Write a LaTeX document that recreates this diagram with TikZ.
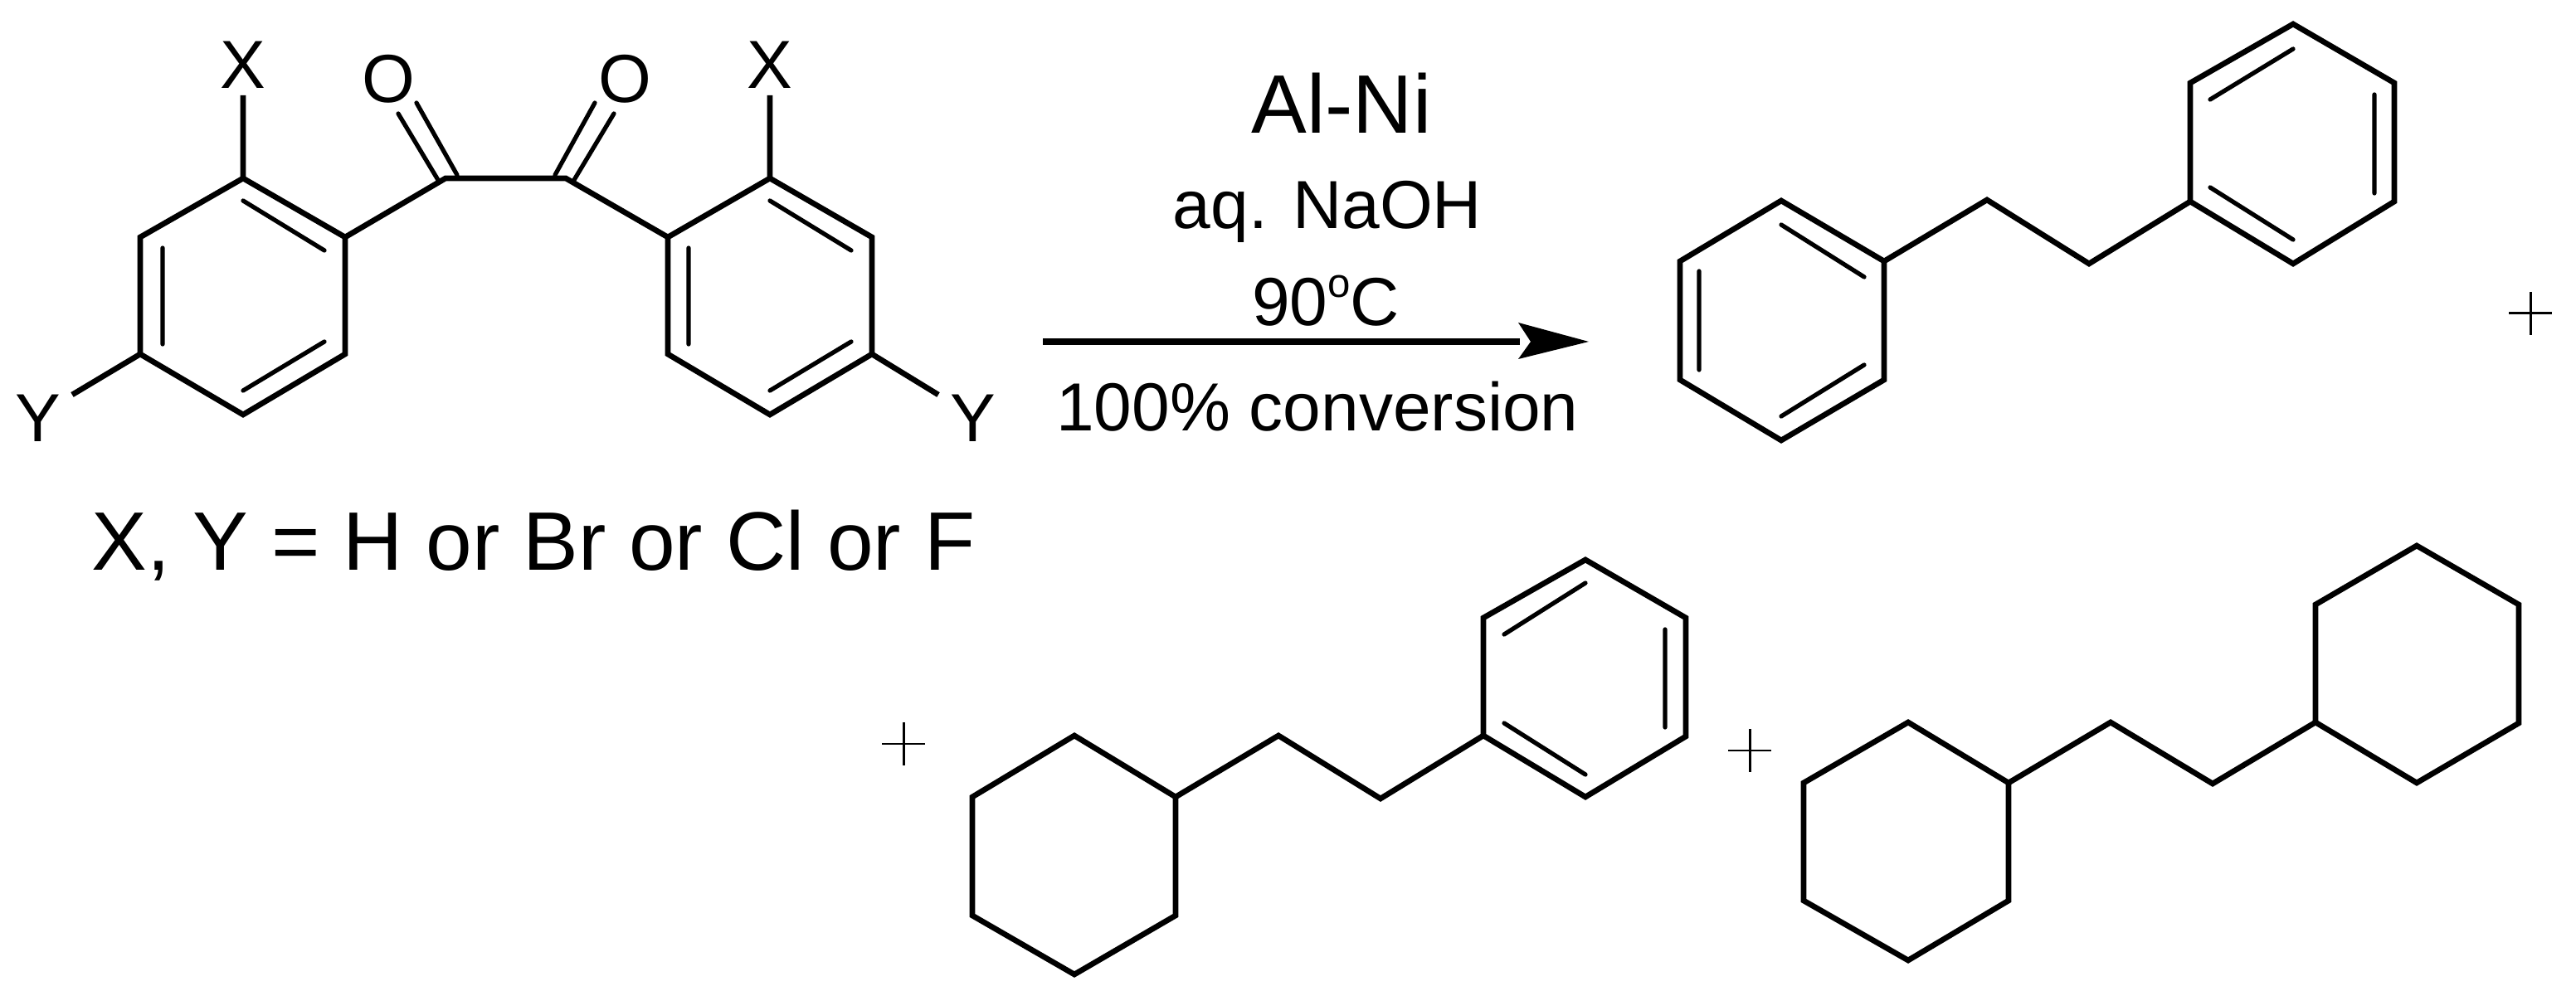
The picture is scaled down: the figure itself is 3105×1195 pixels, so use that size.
\documentclass[tikz,border=0pt]{standalone}
\usepackage{fontspec}
\setmainfont{Liberation Sans}
\newcommand{\bigtxt}{\fontsize{28.45}{34}\selectfont}
\newcommand{\medtxt}{\fontsize{23.33}{28}\selectfont}
\tikzset{
  bond/.style={line width=1.9pt,line join=miter,miter limit=10,black},
  inner/.style={line width=1.5pt,line cap=round,black},
  lab/.style={anchor=base,inner sep=0pt,outer sep=0pt,text=black},
  plusbar/.style={line width=0.85pt,black},
}
% hexagon with named vertices: prefix, six points clockwise from top
\newcommand{\hexa}[7]{%
  \coordinate (#1a) at #2; \coordinate (#1b) at #3; \coordinate (#1c) at #4;
  \coordinate (#1d) at #5; \coordinate (#1e) at #6; \coordinate (#1f) at #7;
  \draw[bond] (#1a) -- (#1b) -- (#1c) -- (#1d) -- (#1e) -- (#1f) -- cycle;}
\newcommand{\plusmark}[3]{%
  \coordinate (#1c) at (#2,#3);
  \coordinate (#1l) at (#2-26,#3); \coordinate (#1r) at (#2+26,#3);
  \coordinate (#1t) at (#2,#3-26); \coordinate (#1b) at (#2,#3+26);
  \draw[plusbar] (#1l) -- (#1r) (#1t) -- (#1b);}
\begin{document}
\begin{tikzpicture}[x=0.01cm,y=-0.01cm]
\useasboundingbox (0,0) rectangle (3105,1195);
% reactant
\hexa{L}{(293,215)}{(416,286)}{(416,427)}{(293,500)}{(169,427)}{(169,286)}
\hexa{R}{(928,215)}{(1051,286)}{(1051,427)}{(928,500)}{(805,427)}{(805,286)}
\draw[inner] (293,242) -- (391,302) (196,299) -- (196,415) (293,471) -- (391,412);
\draw[inner] (928,242) -- (1026,302) (830,299) -- (830,415) (928,471) -- (1026,412);
\coordinate (C1) at (537,215); \coordinate (C2) at (682,215);
\draw[bond] (Lb) -- (C1) -- (C2) -- (Rf);
\node[lab] (O1) at (468,124) {\medtxt O};
\node[lab] (O2) at (753,124) {\medtxt O};
\node[lab] (X1) at (293,107) {\medtxt X};
\node[lab] (X2) at (928,107) {\medtxt X};
\node[lab] (Y1) at (46,533) {\medtxt Y};
\node[lab] (Y2) at (1173,533) {\medtxt Y};
\coordinate (X1e) at (293,115); \coordinate (X2e) at (928,115);
\coordinate (Y1e) at (87,476); \coordinate (Y2e) at (1131,476);
\draw[bond] (La) -- (X1e) (Ra) -- (X2e) (Le) -- (Y1e) (Rc) -- (Y2e);
\coordinate (O1a) at (528,217); \coordinate (O1b) at (480,137);
\coordinate (O1c) at (551,211); \coordinate (O1d) at (502,124);
\coordinate (O2a) at (669,211); \coordinate (O2b) at (717,124);
\coordinate (O2c) at (692,217); \coordinate (O2d) at (740,137);
\draw[inner] (O1a) -- (O1b) (O1c) -- (O1d) (O2a) -- (O2b) (O2c) -- (O2d);
\node[lab] (cap) at (643,688) {\bigtxt X, Y = H or Br or Cl or F};
% conditions
\node[lab] (cat) at (1617,161) {\bigtxt Al-Ni};
\node[lab] (base) at (1600,276) {\medtxt aq. NaOH};
\node[lab] (temp) at (1598,393) {\medtxt 90\raisebox{0.42em}{\fontsize{14}{16}\selectfont o}C};
\node[lab] (conv) at (1588,520) {\medtxt 100\% conversion};
\coordinate (arrS) at (1257,412); \coordinate (arrB) at (1832,412);
\coordinate (arrT) at (1915,412);
\draw[line width=2.3pt,black] (arrS) -- (arrB);
\fill[black] (arrT) -- (1830,389) -- (1845,412) -- (1830,433) -- cycle;
% product 1
\hexa{A}{(2147,242)}{(2271,315)}{(2271,458)}{(2147,531)}{(2025,458)}{(2025,315)}
\hexa{B}{(2764,29)}{(2886,100)}{(2886,243)}{(2764,318)}{(2640,243)}{(2640,100)}
\draw[inner] (2147,271) -- (2247,334) (2048,327) -- (2048,446) (2147,502) -- (2247,440);
\draw[inner] (2764,59) -- (2664,120) (2862,114) -- (2862,233) (2664,226) -- (2764,289);
\coordinate (A1) at (2395,241); \coordinate (A2) at (2518,318);
\draw[bond] (Ab) -- (A1) -- (A2) -- (Be);
\plusmark{P1}{3050}{378}
% product 2
\plusmark{P2}{1089}{897}
\hexa{E}{(1295,887)}{(1417,961)}{(1417,1104)}{(1295,1175)}{(1172,1104)}{(1172,961)}
\hexa{F}{(1911,675)}{(2032,745)}{(2032,888)}{(1911,961)}{(1788,887)}{(1788,745)}
\draw[inner] (1911,703) -- (1813,765) (2007,759) -- (2007,877) (1813,872) -- (1911,934);
\coordinate (E1) at (1541,887); \coordinate (E2) at (1664,963);
\draw[bond] (Eb) -- (E1) -- (E2) -- (Fe);
% product 3
\plusmark{P3}{2109}{905}
\hexa{G}{(2300,871)}{(2421,944)}{(2421,1086)}{(2300,1158)}{(2174,1086)}{(2174,944)}
\hexa{H}{(2913,658)}{(3036,729)}{(3036,872)}{(2913,944)}{(2791,871)}{(2791,729)}
\coordinate (G1) at (2544,871); \coordinate (G2) at (2667,945);
\draw[bond] (Gb) -- (G1) -- (G2) -- (He);
\end{tikzpicture}
\end{document}
